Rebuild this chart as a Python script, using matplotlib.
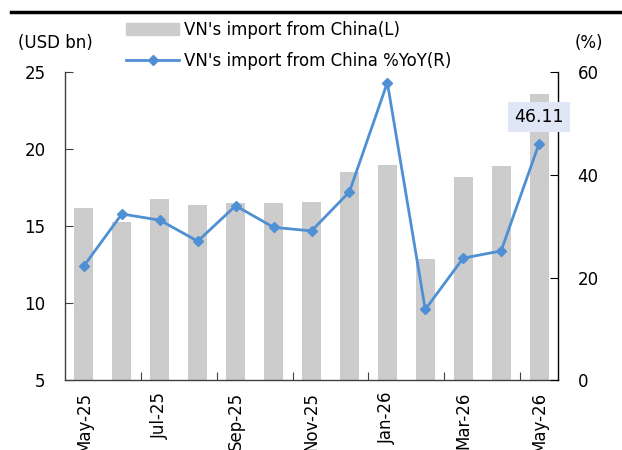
import matplotlib
matplotlib.use("Agg")
import matplotlib.pyplot as plt
from matplotlib.lines import Line2D
from matplotlib.patches import Patch

months = ["May-25", "Jun-25", "Jul-25", "Aug-25", "Sep-25", "Oct-25", "Nov-25",
          "Dec-25", "Jan-26", "Feb-26", "Mar-26", "Apr-26", "May-26"]
imports_usd_bn = [16.2, 15.3, 16.8, 16.4, 16.5, 16.5, 16.6, 18.5, 19.0, 12.9, 18.2, 18.9, 23.6]
yoy_pct = [22.3, 32.4, 31.2, 27.1, 34.0, 29.8, 29.1, 36.7, 58.0, 13.8, 23.8, 25.2, 46.11]
left_ticks = [5, 10, 15, 20, 25]
right_ticks = [0, 20, 40, 60]

bar_color = "#cccccc"
line_color = "#4f8fd3"
FONT = "DejaVu Sans"
fs = 12

plt.rcParams['font.family'] = [FONT]

fig = plt.figure(figsize=(6.22, 4.5), dpi=100)
ax = fig.add_axes([65/622, 1-380.3/450, (558-65)/622, (380.3-72.3)/450])
x = list(range(len(months)))
ax.bar(x, [v - 5 for v in imports_usd_bn], bottom=5, width=0.5, color=bar_color, zorder=1)
ax.set_ylim(5, 25)
ax.set_xlim(-0.5, len(months) - 0.5)
ax.set_yticks(left_ticks)
ax.set_yticklabels([str(t) for t in left_ticks], fontsize=fs)
ax.tick_params(axis='y', direction='in', length=6, pad=14, color='#404040')
ax.set_xticks([i + 0.5 for i in range(1, len(months) - 1, 2)])
ax.set_xticklabels([])
ax.tick_params(axis='x', direction='in', length=6, color='#404040')
for i in range(0, len(months), 2):
    ax.text(i, 5 - 0.75, months[i], rotation=90, ha='center', va='top', fontsize=fs,
            transform=ax.transData, clip_on=False)

ax.spines['top'].set_visible(False)
for s in ['left', 'bottom', 'right']:
    ax.spines[s].set_color('#404040')
    ax.spines[s].set_linewidth(1.0)

ax2 = ax.twinx()
ax2.plot(x, yoy_pct, color=line_color, lw=2.0, marker='D', markersize=5, zorder=3)
ax2.set_ylim(0, 60)
ax2.set_yticks(right_ticks)
ax2.set_yticklabels([str(t) for t in right_ticks], fontsize=fs)
ax2.tick_params(axis='y', direction='in', length=6, pad=14, color='#000000')
ax2.spines['top'].set_visible(False)
ax2.spines['right'].set_color('#000000')
ax2.spines['left'].set_visible(False)
ax2.spines['bottom'].set_visible(False)

ax2.annotate(f"{yoy_pct[-1]:.2f}", xy=(x[-1], yoy_pct[-1]), xytext=(0, 27),
             textcoords='offset pixels', ha='center', va='center', fontsize=fs + 0.5,
             bbox=dict(boxstyle='square,pad=0.35', fc='#dfe7f6', ec='none'), zorder=5)

fig.text(18/622, 1-43/450, "(USD bn)", fontsize=fs, ha='left', va='center')
fig.text(589/622, 1-43/450, "(%)", fontsize=fs, ha='center', va='center')

handles = [Patch(color=bar_color),
           Line2D([0], [0], color=line_color, lw=2.0, marker='D', markersize=5)]
labels = ["VN's import from China(L)", "VN's import from China %YoY(R)"]
fig.legend(handles, labels, loc='upper left', bbox_to_anchor=(126/622, 1-21/450),
           frameon=False, fontsize=fs, handlelength=3.2, handletextpad=0.3,
           labelspacing=0.8, borderaxespad=0, borderpad=0)

fig.add_artist(Line2D([11/622, 1], [1-12/450, 1-12/450], color='black', lw=2.5,
                      transform=fig.transFigure))

fig.savefig("out.png", dpi=100)
